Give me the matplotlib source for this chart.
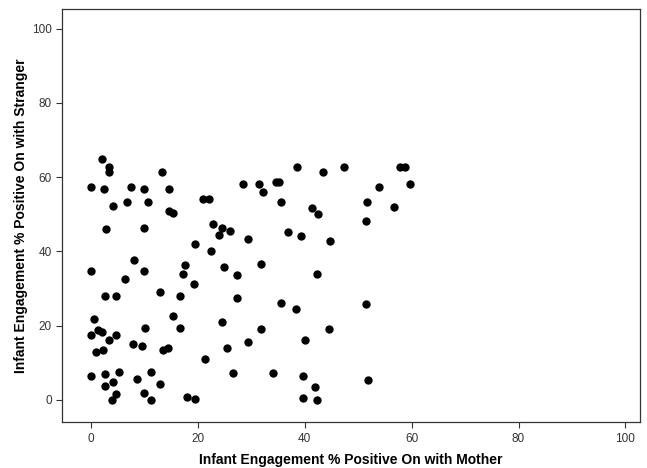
import matplotlib
matplotlib.use("Agg")
from matplotlib import pyplot as plt

# Infant engagement % positive: with mother (x) vs with stranger (y)
mother = [2.1, 3.4, 3.4, 13.2, 0.0, 2.5, 7.5, 10.0, 14.6, 6.7, 10.7, 4.2, 14.6, 15.4,
          21.0, 22.0, 2.9, 10.0, 19.5, 22.4, 8.1, 0.0, 10.0, 17.5, 17.3, 6.3,
          38.5, 43.4, 28.5, 31.5, 34.6, 35.2, 32.2, 35.5, 41.3, 42.5, 22.8, 24.6,
          24.0, 26.0, 36.9, 39.3, 29.4, 44.8, 24.8, 31.9, 27.3, 42.2,
          47.3, 57.8, 58.7, 53.9, 59.7, 51.7, 56.7, 51.5,
          19.3, 2.6, 4.7, 12.9, 16.7, 0.6, 15.4, 10.2, 16.7, 1.4, 2.0, 0.0, 4.7,
          3.4, 7.9, 9.5, 13.4, 14.5, 0.9, 2.2, 21.3, 0.0, 2.6, 5.3, 4.1, 2.6, 8.7,
          11.2, 12.9, 4.7, 4.0, 10.0, 11.2, 18.0, 19.5,
          27.4, 35.5, 38.3, 24.6, 31.9, 44.6, 29.3, 25.4, 40.0, 26.6, 34.0, 39.7,
          41.9, 39.7, 42.2, 51.4, 51.8]
stranger = [65.0, 62.8, 61.4, 61.4, 57.4, 56.7, 57.4, 56.7, 56.7, 53.4, 53.4, 52.2, 50.8, 50.4,
            54.0, 54.0, 46.1, 46.3, 42.0, 40.0, 37.8, 34.6, 34.8, 36.4, 34.0, 32.5,
            62.8, 61.4, 58.1, 58.1, 58.8, 58.8, 56.0, 53.4, 51.7, 50.1, 47.4, 46.2,
            44.5, 45.6, 45.3, 44.1, 43.4, 42.7, 35.7, 36.6, 33.6, 33.9,
            62.8, 62.8, 62.8, 57.4, 58.1, 53.4, 52.0, 48.1,
            31.3, 28.1, 28.1, 29.0, 28.1, 21.8, 22.7, 19.3, 19.3, 18.7, 18.3, 17.4, 17.4,
            16.2, 15.1, 14.6, 13.3, 14.0, 12.8, 13.3, 11.1, 6.3, 6.9, 7.6, 4.9, 3.8, 5.6,
            7.4, 4.2, 1.5, 0.0, 1.8, 0.0, 0.9, 0.2,
            27.3, 26.0, 24.6, 21.0, 19.2, 19.2, 15.6, 14.1, 16.0, 7.2, 7.2, 6.3,
            3.4, 0.6, 0.0, 25.9, 5.4]

ticks = [0, 20, 40, 60, 80, 100]

plt.rcParams['font.family'] = ['Liberation Sans', 'DejaVu Sans']

fig = plt.figure(figsize=(6.47, 4.68), dpi=100)
ax = fig.add_axes([0.096, 0.098, 0.893, 0.883])

ax.scatter(mother, stranger, s=36, c='black', marker='o', linewidths=0)

ax.set_xlim(-5.4, 102.7)
ax.set_ylim(-6, 105.3)
ax.set_xticks(ticks)
ax.set_yticks(ticks)
ax.tick_params(direction='out', length=4, width=0.8, colors='#333333', labelsize=8.5)
for sp in ax.spines.values():
    sp.set_color('#333333')
    sp.set_linewidth(0.9)

ax.set_xlabel('Infant Engagement % Positive On with Mother', fontsize=10,
              fontweight='bold', labelpad=6)
ax.set_ylabel('Infant Engagement % Positive On with Stranger', fontsize=10,
              fontweight='bold', labelpad=3)

fig.savefig('out.png', dpi=100)
